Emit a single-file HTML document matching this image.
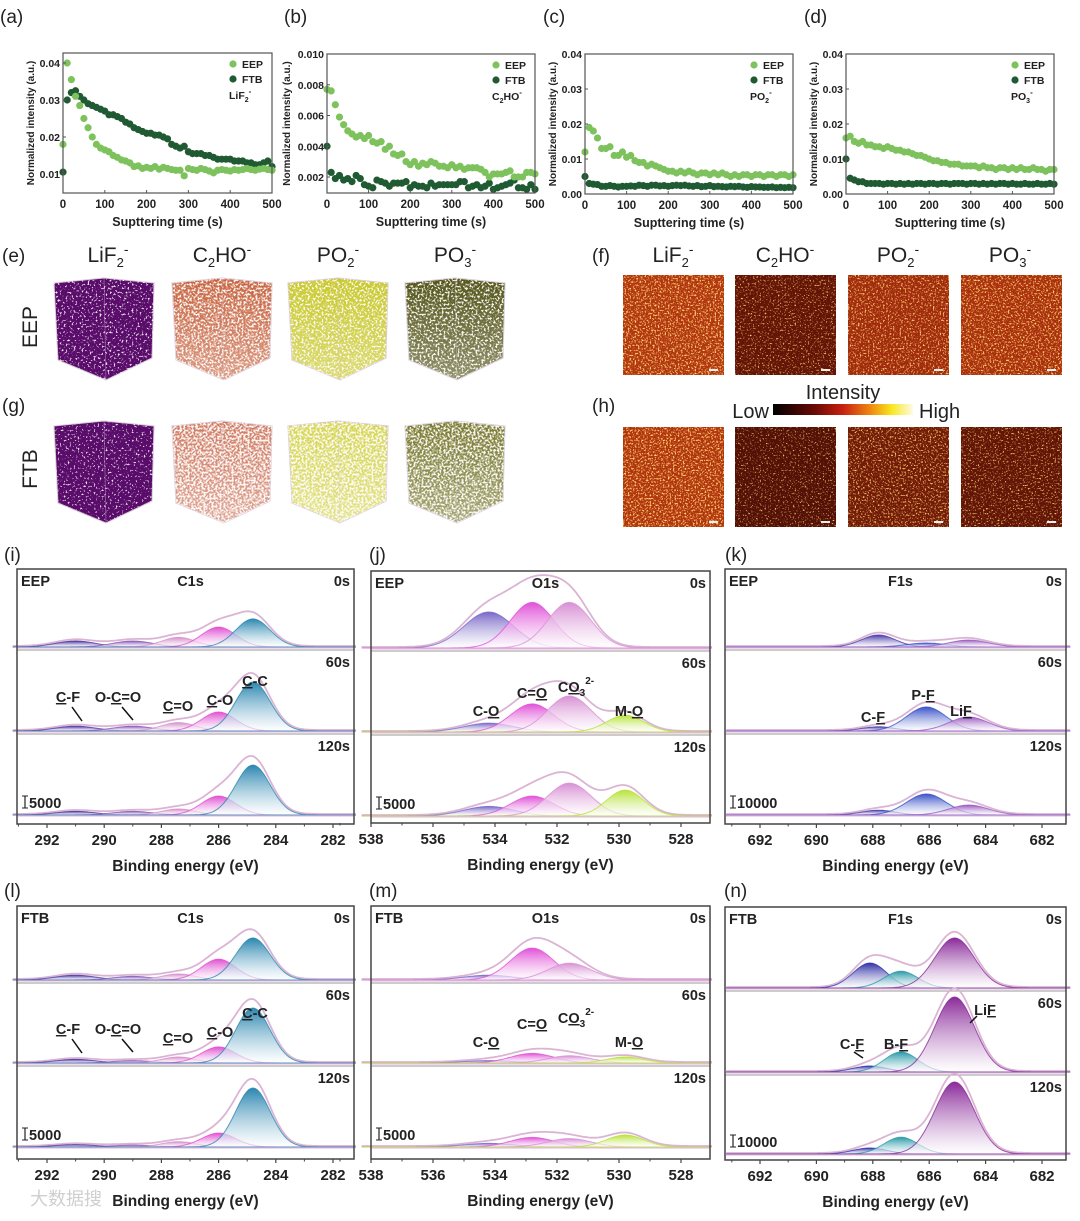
<!DOCTYPE html>
<html><head><meta charset="utf-8"><style>
html,body{margin:0;padding:0;background:#fff}
svg{display:block;font-family:"Liberation Sans",Arial,sans-serif}
</style></head><body>
<svg id="fig" width="1080" height="1221" viewBox="0 0 1080 1221" xmlns="http://www.w3.org/2000/svg">
<defs>
<linearGradient id="cbar" x1="0" x2="1" y1="0" y2="0">
<stop offset="0" stop-color="#000"/><stop offset="0.3" stop-color="#6a0a05"/><stop offset="0.5" stop-color="#c82010"/><stop offset="0.7" stop-color="#f08a10"/><stop offset="0.85" stop-color="#f8e820"/><stop offset="1" stop-color="#fdfbe8"/>
</linearGradient>
<linearGradient id="cubeFade" x1="0" x2="0" y1="0" y2="1">
<stop offset="0" stop-color="#fff" stop-opacity="0"/><stop offset="1" stop-color="#fff" stop-opacity="0.35"/>
</linearGradient>
</defs>
<rect width="1080" height="1221" fill="#fff"/>
<g id="layer"></g>
</svg>
<script>
// ---------- data: panels (a)-(d) ----------
const sputterTime = [0,10,20,30,40,50,60,70,80,90,100,110,120,130,140,150,160,170,180,190,200,210,220,230,240,250,260,270,280,290,300,310,320,330,340,350,360,370,380,390,400,410,420,430,440,450,460,470,480,490,500];
const aEEP = [0.018,0.040,0.0355,0.031,0.0285,0.025,0.0225,0.020,0.018,0.017,0.0165,0.016,0.015,0.0145,0.0138,0.0135,0.013,0.012,0.0122,0.0115,0.0118,0.0115,0.012,0.0113,0.0118,0.0115,0.0112,0.011,0.011,0.0095,0.0115,0.0112,0.011,0.0115,0.0112,0.0108,0.0103,0.011,0.0112,0.011,0.0108,0.0112,0.011,0.0112,0.0115,0.0112,0.011,0.0113,0.0115,0.0112,0.011];
const aFTB = [0.0105,0.030,0.032,0.0325,0.031,0.030,0.029,0.0285,0.028,0.0275,0.027,0.026,0.026,0.0255,0.025,0.024,0.0235,0.0225,0.022,0.0215,0.021,0.021,0.0205,0.0205,0.020,0.0195,0.018,0.0175,0.017,0.0175,0.016,0.0155,0.0155,0.0155,0.015,0.015,0.0145,0.014,0.014,0.014,0.014,0.0135,0.0135,0.0135,0.013,0.013,0.0125,0.0125,0.013,0.0135,0.012];
const bEEP = [0.0077,0.0076,0.0067,0.0059,0.0054,0.0050,0.0048,0.0046,0.0047,0.0045,0.0047,0.0043,0.0042,0.0043,0.0038,0.0040,0.0035,0.0034,0.0035,0.0030,0.0028,0.0030,0.0027,0.0029,0.0028,0.0030,0.0029,0.0027,0.0027,0.0026,0.0028,0.0026,0.0027,0.0025,0.0026,0.0026,0.0026,0.0025,0.0023,0.0020,0.0022,0.0022,0.0022,0.0023,0.0024,0.0020,0.0020,0.0020,0.0023,0.0023,0.0022];
const bFTB = [0.0040,0.0023,0.0019,0.0021,0.0018,0.0019,0.0017,0.0021,0.0019,0.0015,0.0014,0.0013,0.0018,0.0017,0.0016,0.0014,0.0016,0.0016,0.0016,0.0017,0.0013,0.0015,0.0014,0.0014,0.0013,0.0016,0.0014,0.0015,0.0015,0.0015,0.0015,0.0015,0.0017,0.0017,0.0013,0.0014,0.0015,0.0013,0.0014,0.0016,0.0012,0.0013,0.0014,0.0015,0.0016,0.0018,0.0013,0.0013,0.0012,0.0015,0.0012];
const cEEP = [0.012,0.019,0.018,0.016,0.013,0.013,0.0135,0.011,0.011,0.012,0.0105,0.011,0.0095,0.009,0.009,0.008,0.0085,0.008,0.0075,0.007,0.0065,0.0065,0.006,0.0065,0.006,0.0065,0.006,0.0055,0.006,0.006,0.0055,0.006,0.0055,0.006,0.0055,0.005,0.0055,0.005,0.0055,0.0055,0.005,0.0055,0.0055,0.005,0.0055,0.0055,0.005,0.0055,0.0055,0.005,0.0055];
const cFTB = [0.005,0.003,0.0028,0.0027,0.0022,0.0022,0.0024,0.0022,0.002,0.0022,0.0022,0.0023,0.0022,0.0025,0.0024,0.0022,0.0025,0.0025,0.0023,0.0024,0.0022,0.0024,0.0025,0.0024,0.0025,0.0023,0.0022,0.0024,0.0021,0.0022,0.0024,0.0021,0.0022,0.0021,0.002,0.0022,0.0021,0.0022,0.002,0.0019,0.0021,0.002,0.002,0.0019,0.0019,0.002,0.0018,0.0019,0.0018,0.0019,0.0018];
const dEEP = [0.016,0.0165,0.015,0.0145,0.015,0.014,0.014,0.0135,0.0135,0.013,0.0135,0.013,0.0125,0.0125,0.012,0.012,0.0115,0.011,0.011,0.0105,0.01,0.0095,0.0095,0.009,0.009,0.0085,0.0085,0.0085,0.008,0.008,0.008,0.008,0.0075,0.008,0.0075,0.0075,0.007,0.0075,0.0075,0.007,0.0075,0.007,0.0075,0.007,0.007,0.0075,0.007,0.007,0.0065,0.007,0.007];
const dFTB = [0.010,0.0045,0.004,0.0035,0.0035,0.003,0.003,0.003,0.003,0.0028,0.003,0.003,0.0028,0.003,0.0028,0.003,0.0028,0.003,0.003,0.0028,0.003,0.003,0.0028,0.003,0.003,0.0028,0.003,0.003,0.003,0.0028,0.003,0.003,0.0028,0.003,0.0028,0.003,0.0028,0.003,0.003,0.0028,0.003,0.0028,0.0028,0.003,0.0028,0.0028,0.003,0.0028,0.0028,0.003,0.0028];
const xTicksTime = [0,100,200,300,400,500];
const aYTicks = [0.01,0.02,0.03,0.04];
const aYLabels = ["0.01","0.02","0.03","0.04"];
const bYTicks = [0.002,0.004,0.006,0.008,0.010];
const bYLabels = ["0.002","0.004","0.006","0.008","0.010"];
const cdYTicks = [0,0.01,0.02,0.03,0.04];
const cdYLabels = ["0.00","0.01","0.02","0.03","0.04"];

// ---------- data: XPS peaks (counts) ----------
const c1sCenters = [291,289,287.4,286,284.8];
const iEEP0 = [2500,2500,4000,8300,11700];
const iEEP60 = [2000,2000,3500,7900,20400];
const iEEP120 = [1500,1500,2500,7900,20800];
const lFTB0 = [2000,1500,2500,8700,17500];
const lFTB60 = [1500,1000,2500,6700,22900];
const lFTB120 = [1000,800,2200,5800,24600];
const o1sCenters = [534.2,532.8,531.6,529.8];
const jEEP0 = [15000,19000,19000,0];
const jEEP60 = [3700,11700,15000,7000];
const jEEP120 = [4000,8300,13700,10800];
const mFTB0 = [2000,13300,7000,0];
const mFTB60 = [1000,4000,3000,2500];
const mFTB120 = [1500,4000,3500,5000];
const kCenters = [687.8,686.1,684.6];
const kEEP0 = [10000,3300,5800];
const kEEP60 = [3500,20000,11700];
const kEEP120 = [4000,17500,8300];
const nCenters = [688.1,687.0,685.1];
const nFTB0 = [20800,14000,41700];
const nFTB60 = [5000,16700,62500];
const nFTB120 = [5000,14000,60000];
const c1sTicks = [292,290,288,286,284,282];
const o1sTicks = [538,536,534,532,530,528];
const f1sTicks = [692,690,688,686,684,682];

const NS="http://www.w3.org/2000/svg";
const layer=document.getElementById('layer');
const defs=document.querySelector('defs');
function mk(tag,attrs,parent){const e=document.createElementNS(NS,tag);for(const k in attrs)e.setAttribute(k,attrs[k]);(parent||layer).appendChild(e);return e;}
function txt(x,y,s,size,opts,parent){opts=opts||{};const e=mk('text',{x:x,y:y,'font-size':size,fill:opts.fill||'#222','text-anchor':opts.anchor||'start','font-weight':opts.bold?'bold':'normal'},parent);if(opts.rot)e.setAttribute('transform','rotate(-90 '+x+' '+y+')');e.innerHTML=s;return e;}

const letters=[["(a)",0,23],["(b)",284,23],["(c)",543,23],["(d)",804,23],["(e)",2,262],["(f)",592,262],["(g)",2,412],["(h)",592,412],["(i)",4,561],["(j)",369,561],["(k)",725,561],["(l)",4,897],["(m)",369,897],["(n)",724,897]];
letters.forEach(l=>{const t=txt(l[1],l[2],l[0],19);

});

function scatter(id,L,R,T,B,ymin,ymax,yt,yl,eep,ftb,ion){
  const g=mk('g',{});
  
  
  const sx=v=>L+(v-0)/(500-0)*(R-L);
  const sy=v=>B-(v-ymin)/(ymax-ymin)*(B-T);
  [[ftb,'#1f5a33','ftb'],[eep,'#7dc25c','eep']].forEach(s=>{
    const sg=mk('g',{},g);
    
    
    s[0].forEach((v,i)=>{const c=mk('circle',{cx:sx(sputterTime[i]),cy:sy(v),r:3.6,fill:s[1]},sg);
      
      });
  });
  const fr=mk('rect',{x:L,y:T,width:R-L,height:B-T,fill:'none',stroke:'#555','stroke-width':1.2},g);
  
  
  xTicksTime.forEach(v=>{mk('line',{x1:sx(v),x2:sx(v),y1:B,y2:B-3,stroke:'#555'},g);txt(sx(v),B+15,String(v),11.5,{bold:1,anchor:'middle'},g);});
  yt.forEach((v,i)=>{mk('line',{x1:L,x2:L+3,y1:sy(v),y2:sy(v),stroke:'#555'},g);txt(L-3,sy(v)+4,yl[i],10.5,{bold:1,anchor:'end'},g);});
  const xl=txt((L+R)/2,B+33,'Supttering time (s)',12.5,{bold:1,anchor:'middle'},g);
  
  
  const ylab=txt(L-(yl[0].length>4?37:29),(T+B)/2,'Normalized intensity (a.u.)',10,{bold:1,anchor:'middle',rot:1},g);
  
  
  const lg=mk('g',{},g);
  
  
  mk('circle',{cx:R-39,cy:T+11,r:3.6,fill:'#7dc25c'},lg);txt(R-30,T+15,'EEP',10.5,{bold:1},lg);
  mk('circle',{cx:R-39,cy:T+26,r:3.6,fill:'#1f5a33'},lg);txt(R-30,T+30,'FTB',10.5,{bold:1},lg);
  txt(R-43,T+46,ion,10.5,{bold:1},lg);
}
scatter('a',63,272,53,193,0.00486,0.0427,aYTicks,aYLabels,aEEP,aFTB,'LiF<tspan font-size="7" dy="3">2</tspan><tspan font-size="8" dy="-8">-</tspan>');
scatter('b',327,535,54,193,0.00096,0.010,bYTicks,bYLabels,bEEP,bFTB,'C<tspan font-size="7" dy="3">2</tspan><tspan dy="-3">HO</tspan><tspan font-size="8" dy="-5">-</tspan>');
scatter('c',585,793,54,194,0,0.04,cdYTicks,cdYLabels,cEEP,cFTB,'PO<tspan font-size="7" dy="3">2</tspan><tspan font-size="8" dy="-8">-</tspan>');
scatter('d',846,1054,54,194,0,0.04,cdYTicks,cdYLabels,dEEP,dFTB,'PO<tspan font-size="7" dy="3">3</tspan><tspan font-size="8" dy="-8">-</tspan>');

const ionHTML=['LiF<tspan font-size="13" dy="5">2</tspan><tspan font-size="14" dy="-13">-</tspan>','C<tspan font-size="13" dy="5">2</tspan><tspan dy="-5">HO</tspan><tspan font-size="14" dy="-8">-</tspan>','PO<tspan font-size="13" dy="5">2</tspan><tspan font-size="14" dy="-13">-</tspan>','PO<tspan font-size="13" dy="5">3</tspan><tspan font-size="14" dy="-13">-</tspan>'];
[108,222,338,455].forEach((x,i)=>{const t=txt(x,262,ionHTML[i],21,{anchor:'middle'});});
[673,785,898,1010].forEach((x,i)=>{const t=txt(x,262,ionHTML[i],21,{anchor:'middle'});});
const r1=txt(37,327,'EEP',21,{anchor:'middle',rot:1});
const r2=txt(37,469,'FTB',21,{anchor:'middle',rot:1});

function noiseFilter(id,freq,seed,rgb,ka,kb){
  const f=mk('filter',{id:id,x:0,y:0,width:1,height:1},defs);
  mk('feTurbulence',{type:'fractalNoise',baseFrequency:freq,numOctaves:2,seed:seed,result:'n'},f);
  mk('feColorMatrix',{type:'matrix',values:'0 0 0 0 '+rgb[0]+' 0 0 0 0 '+rgb[1]+' 0 0 0 0 '+rgb[2]+' '+ka+' 0 0 0 '+kb},f);
  mk('feComposite',{operator:'in',in2:'SourceGraphic'},f);
}
const cubeCols=[['#5a0c6a','#c8643f','#c9c82c','#55561a'],['#5a0c6a','#d07a60','#d6d450','#7a7a30']];
const cubeSpeck=[[-6.0,-4.95,-5.25,-5.3],[-6.2,-4.55,-4.7,-4.8]];
const cubeX=[54,172,288,405], cubeY=[278,421];
let fid=0;
cubeY.forEach((cy,r)=>cubeX.forEach((cx,i)=>{
  const g=mk('g',{});
  
  
  const pts=[[0,5],[50,0],[100,5],[98,80],[52,102],[4,82]].map(p=>(cx+p[0])+','+(cy+p[1])).join(' ');
  mk('polygon',{points:pts,fill:cubeCols[r][i],stroke:'#d8c8d8','stroke-width':1},g);
  const id='sp'+(fid++);
  noiseFilter(id,0.5,fid*7,[1,1,1],10,cubeSpeck[r][i]);
  mk('polygon',{points:pts,fill:'#fff',filter:'url(#'+id+')',opacity:0.92},g);
  if(i>0)mk('polygon',{points:pts,fill:'url(#cubeFade)'},g);
  mk('line',{x1:cx+50,y1:cy,x2:cx+52,y2:cy+102,stroke:'#d8c8d8','stroke-width':0.6,opacity:0.6},g);
}));

const mapX=[623,735,848,961], mapY=[275,427];
const mapBase=[['#b03410','#641407','#a02a0d','#a82e0e'],['#b0330f','#521006','#721a08','#621507']];
const mapBright=[[-2.55,-2.9,-2.7,-2.6],[-2.55,-2.95,-2.75,-2.9]];
mapY.forEach((my,r)=>mapX.forEach((mx,i)=>{
  const g=mk('g',{});
  
  
  mk('rect',{x:mx,y:my,width:101,height:100,fill:mapBase[r][i]},g);
  const id='hm'+(fid++);
  noiseFilter(id,0.6,fid*13,[1,0.65,0.15],5,mapBright[r][i]);
  mk('rect',{x:mx,y:my,width:101,height:100,fill:'#fff',filter:'url(#'+id+')'},g);
  mk('rect',{x:mx+86,y:my+94,width:9,height:2,fill:'#eee'},g);
}));
const cbg=mk('g',{});


mk('rect',{x:773,y:404,width:140,height:11,fill:'url(#cbar)'},cbg);
txt(843,399,'Intensity',20,{anchor:'middle'},cbg);
txt(769,418,'Low',20,{anchor:'end'},cbg);
txt(919,418,'High',20,{},cbg);

function xps(cfg){
  const g=mk('g',{});
  
  
  const sx=E=>cfg.x0+(cfg.e0-E)*cfg.ppe;
  const k=cfg.ppc;
  cfg.rows.forEach((row,ri)=>{
    const base=cfg.bases[ri];
    const N=240, Ea=cfg.eL, Eb=cfg.eR;
    const sumY=new Array(N+1).fill(0);
    const peakPaths=[];
    row.forEach((h,pi)=>{
      if(!h)return;
      const c=cfg.centers[pi], s=cfg.sig[pi];
      let d='';
      for(let j=0;j<=N;j++){const E=Ea+(Eb-Ea)*j/N;const v=h*Math.exp(-(E-c)*(E-c)/(2*s*s));sumY[j]+=v;
        const y=base-v*k;d+=(j?'L':'M')+sx(E).toFixed(1)+','+y.toFixed(1);}
      peakPaths.push([d+'L'+sx(Eb)+','+base+'L'+sx(Ea)+','+base+'Z',pi,h]);
    });
    let de='';
    for(let j=0;j<=N;j++){const E=Ea+(Eb-Ea)*j/N;de+=(j?'L':'M')+sx(E).toFixed(1)+','+(base-1-sumY[j]*k*1.1).toFixed(1);}
    const env=mk('path',{d:de,fill:'none',stroke:'#dbb4d4','stroke-width':1.8},g);
    
    
    peakPaths.forEach(p=>{
      const col=cfg.colors[p[1]];
      const gid='g'+(fid++);
      const lg=mk('linearGradient',{id:gid,x1:0,x2:0,y1:0,y2:1},defs);
      mk('stop',{offset:0,'stop-color':col},lg);mk('stop',{offset:1,'stop-color':'#fff','stop-opacity':0.6},lg);
      const pe=mk('path',{d:p[0],fill:'url(#'+gid+')',stroke:col,'stroke-width':1,'stroke-opacity':0.8},g);
      
      
    });
    mk('line',{x1:cfg.L,x2:cfg.R,y1:base+1,y2:base+1,stroke:'#e4c4e0','stroke-width':1.2},g);
    if(ri<2)mk('line',{x1:cfg.L,x2:cfg.R,y1:cfg.seps[ri],y2:cfg.seps[ri],stroke:'#999','stroke-width':1},g);
  });
  const fr=mk('rect',{x:cfg.L,y:cfg.T,width:cfg.R-cfg.L,height:cfg.B-cfg.T,fill:'none',stroke:'#444','stroke-width':1.5},g);
  
  
  cfg.ticks.forEach(E=>{const x=sx(E);if(x<cfg.L-1||x>cfg.R+1)return;mk('line',{x1:x,x2:x,y1:cfg.B,y2:cfg.B+4,stroke:'#444','stroke-width':1.2},g);
    mk('line',{x1:x-cfg.ppe,x2:x-cfg.ppe,y1:cfg.B,y2:cfg.B+2.5,stroke:'#444'},g);});
  cfg.ticks.forEach(E=>{txt(Math.max(sx(E),cfg.L-4),cfg.B+21,String(E),15,{bold:1,anchor:'middle'},g);});
  const xt=txt((cfg.L+cfg.R)/2,cfg.B+47,'Binding energy (eV)',15.5,{bold:1,anchor:'middle'},g);
  
  
  txt(cfg.L+4,cfg.T+17,cfg.sample,14.5,{bold:1},g);
  txt((cfg.L+cfg.R)/2+5,cfg.T+17,cfg.title,14.5,{bold:1,anchor:'middle'},g);
  ['0s','60s','120s'].forEach((s,i)=>txt(cfg.R-4,[cfg.T,cfg.seps[0],cfg.seps[1]][i]+17,s,14.5,{bold:1,anchor:'end'},g));
  const sb=cfg.bases[2]-7;
  mk('line',{x1:cfg.L+8,x2:cfg.L+8,y1:sb-12,y2:sb,stroke:'#222','stroke-width':1.2},g);
  mk('line',{x1:cfg.L+5,x2:cfg.L+11,y1:sb-12,y2:sb-12,stroke:'#222'},g);
  mk('line',{x1:cfg.L+5,x2:cfg.L+11,y1:sb,y2:sb,stroke:'#222'},g);
  txt(cfg.L+12,sb,cfg.scaleLabel,14.5,{bold:1},g);
  (cfg.ann||[]).forEach(a=>{const t=txt(a[0],a[1],a[2],14.5,{bold:1,anchor:'middle'},g);
    
    
    if(a[3])mk('line',{x1:a[3][0],y1:a[3][1],x2:a[3][2],y2:a[3][3],stroke:'#111','stroke-width':1.5},g);});
}
const u=s=>'<tspan text-decoration="underline">'+s+'</tspan>';
const c1sCols=['#4b34a0','#8a58b8','#d690cc','#e050d2','#2a86b0'];
const c1sSig=[0.7,0.7,0.6,0.6,0.6];
const c1sAnn=(b)=>[[68,b-29,u('C')+'-F',[72,b-24,82,b-10]],[118,b-29,'O-'+u('C')+'=O',[122,b-24,133,b-11]],[178,b-20,u('C')+'=O'],[220,b-26,u('C')+'-O'],[255,b-45,u('C')+'-C']];
xps({id:'i',L:17,R:354,T:569,B:824,x0:47,e0:292,ppe:28.6,eL:293.2,eR:281.2,ppc:12/5000,bases:[647,731,815],seps:[650,734],
  centers:c1sCenters,sig:c1sSig,colors:c1sCols,rows:[iEEP0,iEEP60,iEEP120],ticks:c1sTicks,sample:'EEP',title:'C1s',scaleLabel:'5000',ann:c1sAnn(731)});
xps({id:'l',L:17,R:354,T:906,B:1159,x0:47,e0:292,ppe:28.6,eL:293.2,eR:281.2,ppc:12/5000,bases:[980,1063,1147],seps:[983,1066],
  centers:c1sCenters,sig:c1sSig,colors:c1sCols,rows:[lFTB0,lFTB60,lFTB120],ticks:c1sTicks,sample:'FTB',title:'C1s',scaleLabel:'5000',ann:c1sAnn(1063)});
const o1sCols=['#7a68c8','#e052d8','#d890d4','#b8e23a'];
const o1sSig=[0.8,0.7,0.7,0.6];
const o1sAnn=(b)=>[[486,b-16,'C-'+u('O')],[532,b-34,'C='+u('O')],[576,b-40,'C'+u('O')+'<tspan font-size="10" dy="4">3</tspan><tspan font-size="10" dy="-12">2-</tspan>'],[629,b-16,'M-'+u('O')]];
xps({id:'j',L:371,R:710,T:571,B:823,x0:371,e0:538,ppe:31,eL:538.3,eR:527,ppc:12/5000,bases:[648,732,816],seps:[651,735],
  centers:o1sCenters,sig:o1sSig,colors:o1sCols,rows:[jEEP0,jEEP60,jEEP120],ticks:o1sTicks,sample:'EEP',title:'O1s',scaleLabel:'5000',ann:o1sAnn(732)});
xps({id:'m',L:371,R:710,T:906,B:1159,x0:371,e0:538,ppe:31,eL:538.3,eR:527,ppc:12/5000,bases:[980,1063,1147],seps:[983,1066],
  centers:o1sCenters,sig:o1sSig,colors:o1sCols,rows:[mFTB0,mFTB60,mFTB120],ticks:o1sTicks,sample:'FTB',title:'O1s',scaleLabel:'5000',ann:o1sAnn(1063)});
xps({id:'k',L:725,R:1066,T:569,B:824,x0:760,e0:692,ppe:28.2,eL:693.2,eR:681,ppc:12/10000,bases:[647,731,815],seps:[650,734],
  centers:kCenters,sig:[0.6,0.7,0.7],colors:['#4a3aa8','#3a52c8','#9a5ac0'],rows:[kEEP0,kEEP60,kEEP120],ticks:f1sTicks,sample:'EEP',title:'F1s',scaleLabel:'10000',
  ann:[[873,722,'C-'+u('F')],[923,700,'P-'+u('F')],[961,716,'Li'+u('F')]]});
xps({id:'n',L:725,R:1066,T:907,B:1160,x0:760,e0:692,ppe:28.2,eL:693.2,eR:681,ppc:12/10000,bases:[988,1072,1154],seps:[991,1075],
  centers:nCenters,sig:[0.6,0.6,0.7],colors:['#3232a8','#2a9aa8','#8a2a9a'],rows:[nFTB0,nFTB60,nFTB120],ticks:f1sTicks,sample:'FTB',title:'F1s',scaleLabel:'10000',
  ann:[[852,1049,'C-'+u('F'),[854,1052,863,1058]],[896,1049,'B-'+u('F')],[985,1015,'Li'+u('F'),[977,1016,970,1023]]]});
const wm=txt(30,1205,'大数据搜',18,{fill:'#cfcfcf'});
wm.setAttribute('font-family','"Liberation Sans","Noto Sans CJK SC",sans-serif');


</script>
</body></html>
